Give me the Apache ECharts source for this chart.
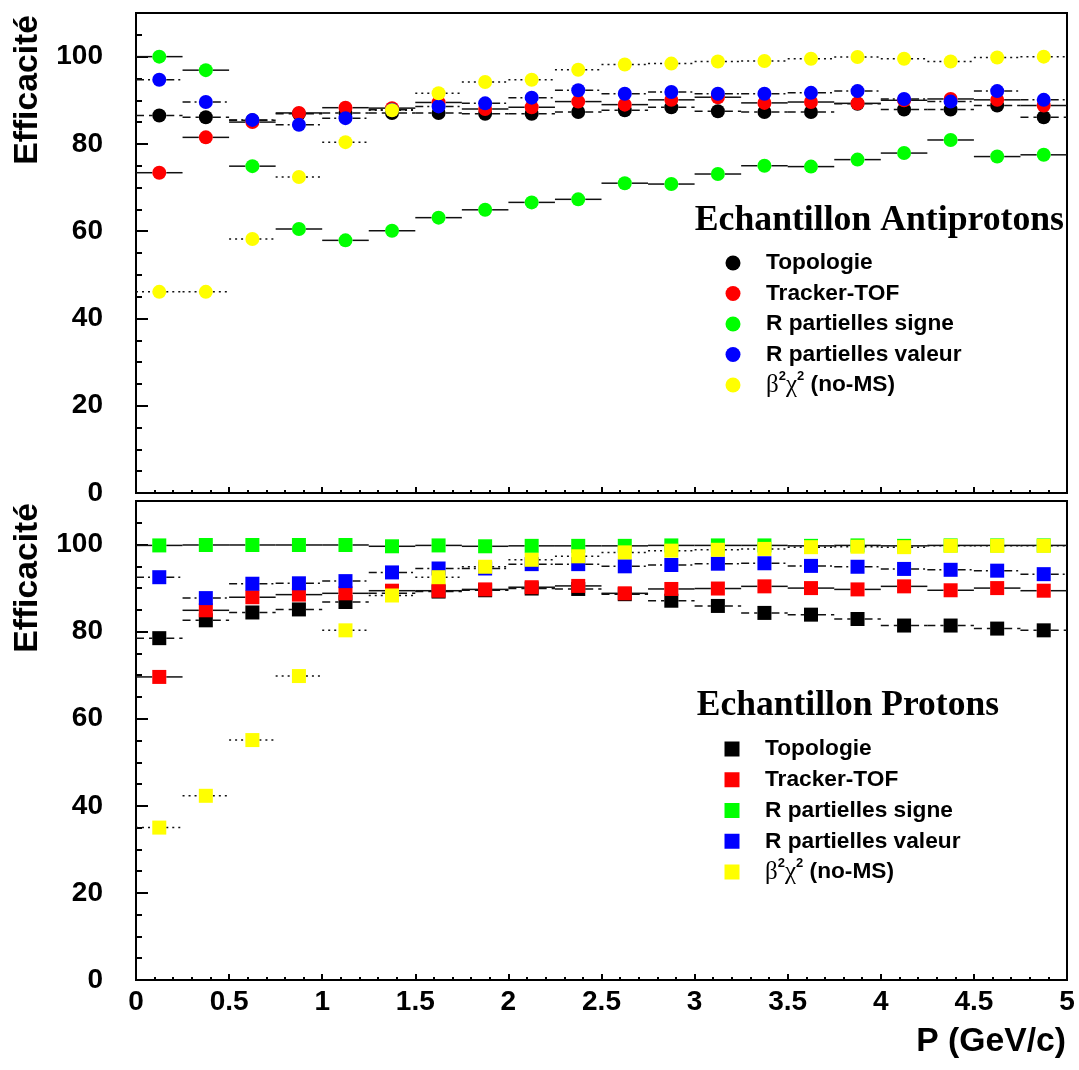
<!DOCTYPE html>
<html><head><meta charset="utf-8">
<script src="https://cdn.jsdelivr.net/npm/echarts@6/dist/echarts.min.js"></script>
<style>html,body{margin:0;padding:0;background:#fff}#c{width:1079px;height:1070px}</style>
</head><body><div id="c"></div>
<script>
// ---- data ----
const binCenters = [0.125,0.375,0.625,0.875,1.125,1.375,1.625,1.875,2.125,2.375,2.625,2.875,3.125,3.375,3.625,3.875,4.125,4.375,4.625,4.875];
const binHalfWidth = 0.125;
const seriesNames = ['Topologie','Tracker-TOF','R partielles signe','R partielles valeur','β²χ² (no-MS)'];
const yTickLabels = [0,20,40,60,80,100];
const xTickLabels = [0,0.5,1,1.5,2,2.5,3,3.5,4,4.5,5];

// Echantillon Antiprotons
const antiTopologie = [86.5,86.1,85.4,86.9,87.1,87.1,87.1,86.9,86.9,87.3,87.7,88.4,87.5,87.3,87.3,89.2,87.9,87.9,88.8,86.1];
const antiTracker   = [73.4,81.5,85.0,87.1,88.3,88.2,89.5,88.0,88.4,89.7,89.0,90.1,90.7,89.4,89.6,89.3,90.0,90.3,90.1,88.8];
const antiSigne     = [100.0,96.9,74.9,60.5,57.9,60.1,63.1,64.9,66.6,67.3,71.0,70.8,73.1,75.0,74.8,76.4,77.9,80.9,77.1,77.5];
const antiValeur    = [94.7,89.6,85.5,84.4,85.9,87.8,88.6,89.3,90.6,92.3,91.5,91.9,91.5,91.5,91.7,92.1,90.3,89.7,92.1,90.1];
const antiBeta      = [46.1,46.1,58.2,72.4,80.4,87.7,91.6,94.2,94.7,97.0,98.2,98.4,98.9,99.0,99.5,99.9,99.5,98.9,99.8,100.0];

// Echantillon Protons
const protTopologie = [78.5,82.6,84.4,85.1,86.8,88.8,89.2,89.5,89.9,89.8,88.6,87.1,85.9,84.3,83.9,82.9,81.4,81.4,80.7,80.3];
const protTracker   = [69.6,84.9,87.9,88.5,88.8,89.4,89.4,89.7,90.2,90.5,88.8,89.8,89.9,90.4,90.0,89.7,90.4,89.5,90.0,89.4];
const protSigne     = [99.8,99.9,99.9,99.9,99.9,99.6,99.8,99.6,99.7,99.7,99.7,99.8,99.8,99.8,99.7,99.8,99.7,99.8,99.8,99.8];
const protValeur    = [92.5,87.7,91.0,91.1,91.6,93.6,94.5,94.5,95.5,95.5,95.0,95.3,95.6,95.7,95.1,94.9,94.4,94.2,94.0,93.2];
const protBeta      = [35.0,42.3,55.1,69.8,80.3,88.3,92.5,94.9,96.5,97.3,98.2,98.6,98.8,99.0,99.4,99.5,99.4,99.7,99.7,99.7];

// ---- styles ----
const colors = ['#000000','#ff0000','#00ff00','#0000ff','#ffff00'];
const dashes = [[8,5], null, null, [8,4,2,4], [2,4]];
const SANS = '"Liberation Sans", Arial, Helvetica, sans-serif';
const SERIF = '"Liberation Serif", "Times New Roman", serif';

let zCounter = 2;
function panelSeries(panel, sets, symbol) {
  const out = [];
  sets.forEach((vals, k) => {
    const data = binCenters.map((c, i) => [c, vals[i]]);
    const dash = dashes[k];
    out.push({
      type: 'custom', name: seriesNames[k] + ' (err)', xAxisIndex: panel, yAxisIndex: panel * 2,
      silent: true, z: zCounter++, data: data, encode: {x: 0, y: 1},
      renderItem: function (params, api) {
        const x = api.value(0), y = api.value(1);
        const c = api.coord([x, y]);
        const l = api.coord([x - binHalfWidth, y]);
        const r = api.coord([x + binHalfWidth, y]);
        const gap = 7;
        const st = {stroke: '#111', lineWidth: 1.5, lineDash: dash || null, fill: null};
        return {type: 'group', children: [
          {type: 'line', shape: {x1: l[0], y1: c[1], x2: c[0] - gap, y2: c[1]}, style: st},
          {type: 'line', shape: {x1: c[0] + gap, y1: c[1], x2: r[0], y2: c[1]}, style: st}
        ]};
      }
    });
    out.push({
      type: 'scatter', name: seriesNames[k], xAxisIndex: panel, yAxisIndex: panel * 2,
      z: zCounter++, symbol: symbol, symbolSize: 14, data: data,
      itemStyle: {color: colors[k], opacity: 1}, emphasis: {disabled: true}
    });
  });
  return out;
}

const series = [].concat(
  panelSeries(0, [antiTopologie, antiTracker, antiSigne, antiValeur, antiBeta], 'circle'),
  panelSeries(1, [protTopologie, protTracker, protSigne, protValeur, protBeta], 'rect')
);

function xAxisCfg(gi, showLabels) {
  return {
    gridIndex: gi, type: 'value', min: 0, max: 5, interval: 0.5, position: 'bottom',
    axisLine: {show: true, onZero: false, lineStyle: {color: '#000', width: 2}},
    axisTick: {show: true, inside: true, length: 6, lineStyle: {color: '#000', width: 2}},
    minorTick: {show: true, splitNumber: 5, length: 3, lineStyle: {color: '#000', width: 2}},
    splitLine: {show: false}, minorSplitLine: {show: false},
    axisLabel: {show: showLabels, margin: 8, color: '#000', fontFamily: SANS, fontWeight: 'bold', fontSize: 28,
      formatter: v => xTickLabels.some(t => Math.abs(t - v) < 1e-6) ? String(v) : ''}
  };
}
function yAxisMajor(gi) {
  return {
    gridIndex: gi, type: 'value', min: 0, max: 110, interval: 20, position: 'left',
    axisLine: {show: true, onZero: false, lineStyle: {color: '#000', width: 2}},
    axisTick: {show: true, inside: true, length: 12, lineStyle: {color: '#000', width: 2}},
    splitLine: {show: false},
    axisLabel: {margin: 33, color: '#000', fontFamily: SANS, fontWeight: 'bold', fontSize: 28,
      formatter: v => yTickLabels.indexOf(v) >= 0 ? String(v) : ''}
  };
}
function yAxisMinor(gi) {
  return {
    gridIndex: gi, type: 'value', min: 0, max: 110, interval: 5, position: 'left',
    axisLine: {show: false},
    axisTick: {show: true, inside: true, length: 6, lineStyle: {color: '#000', width: 2}},
    splitLine: {show: false}, axisLabel: {show: false}
  };
}

const legendText = {
  fontFamily: SANS, fontWeight: 'bold', fontSize: 22.7, color: '#000', lineHeight: 30,
  padding: [0, 0, 0, 20.5],
  rich: {
    gr: {fontFamily: SERIF, fontWeight: 'normal', fontSize: 25, color: '#000', lineHeight: 30},
    sup: {fontFamily: SANS, fontWeight: 'bold', fontSize: 13, color: '#000', lineHeight: 16, verticalAlign: 'top'},
    t: {fontFamily: SANS, fontWeight: 'bold', fontSize: 22.7, color: '#000', lineHeight: 30}
  }
};
const legendFormatter = name => name === seriesNames[4]
  ? '{gr|β}{sup|2}{gr|χ}{sup|2}{t| (no-MS)}' : name;

function textEl(text, x, y, opts) {
  return Object.assign({
    type: 'text', x: x, y: y, silent: true,
    style: Object.assign({text: text, fill: '#000'}, opts.style)
  }, opts.el || {});
}

const option = {
  animation: false,
  backgroundColor: '#fff',
  grid: [
    {left: 136, right: 12, top: 13, height: 480, show: true, borderColor: '#000', borderWidth: 2, backgroundColor: 'transparent'},
    {left: 136, right: 12, top: 501, height: 479, show: true, borderColor: '#000', borderWidth: 2, backgroundColor: 'transparent'}
  ],
  xAxis: [xAxisCfg(0, false), xAxisCfg(1, true)],
  yAxis: [yAxisMajor(0), yAxisMinor(0), yAxisMajor(1), yAxisMinor(1)],
  legend: [
    {data: seriesNames.map(n => ({name: n, icon: 'circle'})), orient: 'vertical', left: 725.5, top: 248,
     itemWidth: 15, itemHeight: 15, itemGap: 0.5, padding: 0, selectedMode: false,
     textStyle: legendText, formatter: legendFormatter},
    {data: seriesNames.map(n => ({name: n, icon: 'rect'})), orient: 'vertical', left: 724.5, top: 734,
     itemWidth: 15, itemHeight: 15, itemGap: 0.75, padding: 0, selectedMode: false,
     textStyle: legendText, formatter: legendFormatter}
  ],
  graphic: [
    textEl('Echantillon Antiprotons', 1064, 220.5, {style: {fontFamily: SERIF, fontWeight: 'bold', fontSize: 35.7,
      align: 'right', verticalAlign: 'middle', textAlign: 'right', textVerticalAlign: 'middle'}}),
    textEl('Echantillon Protons', 999, 706, {style: {fontFamily: SERIF, fontWeight: 'bold', fontSize: 35.5,
      align: 'right', verticalAlign: 'middle', textAlign: 'right', textVerticalAlign: 'middle'}}),
    textEl('Efficacité', 28, 15, {el: {rotation: Math.PI / 2}, style: {fontFamily: SANS, fontWeight: 'bold', fontSize: 33.7,
      align: 'right', verticalAlign: 'middle', textAlign: 'right', textVerticalAlign: 'middle'}}),
    textEl('Efficacité', 28, 503, {el: {rotation: Math.PI / 2}, style: {fontFamily: SANS, fontWeight: 'bold', fontSize: 33.7,
      align: 'right', verticalAlign: 'middle', textAlign: 'right', textVerticalAlign: 'middle'}}),
    textEl('P (GeV/c)', 1066, 1042, {style: {fontFamily: SANS, fontWeight: 'bold', fontSize: 33.7,
      align: 'right', verticalAlign: 'middle', textAlign: 'right', textVerticalAlign: 'middle'}})
  ],
  series: series
};

const chart = echarts.init(document.getElementById('c'), null, {renderer: 'canvas'});
chart.setOption(option);
</script>
</body></html>
